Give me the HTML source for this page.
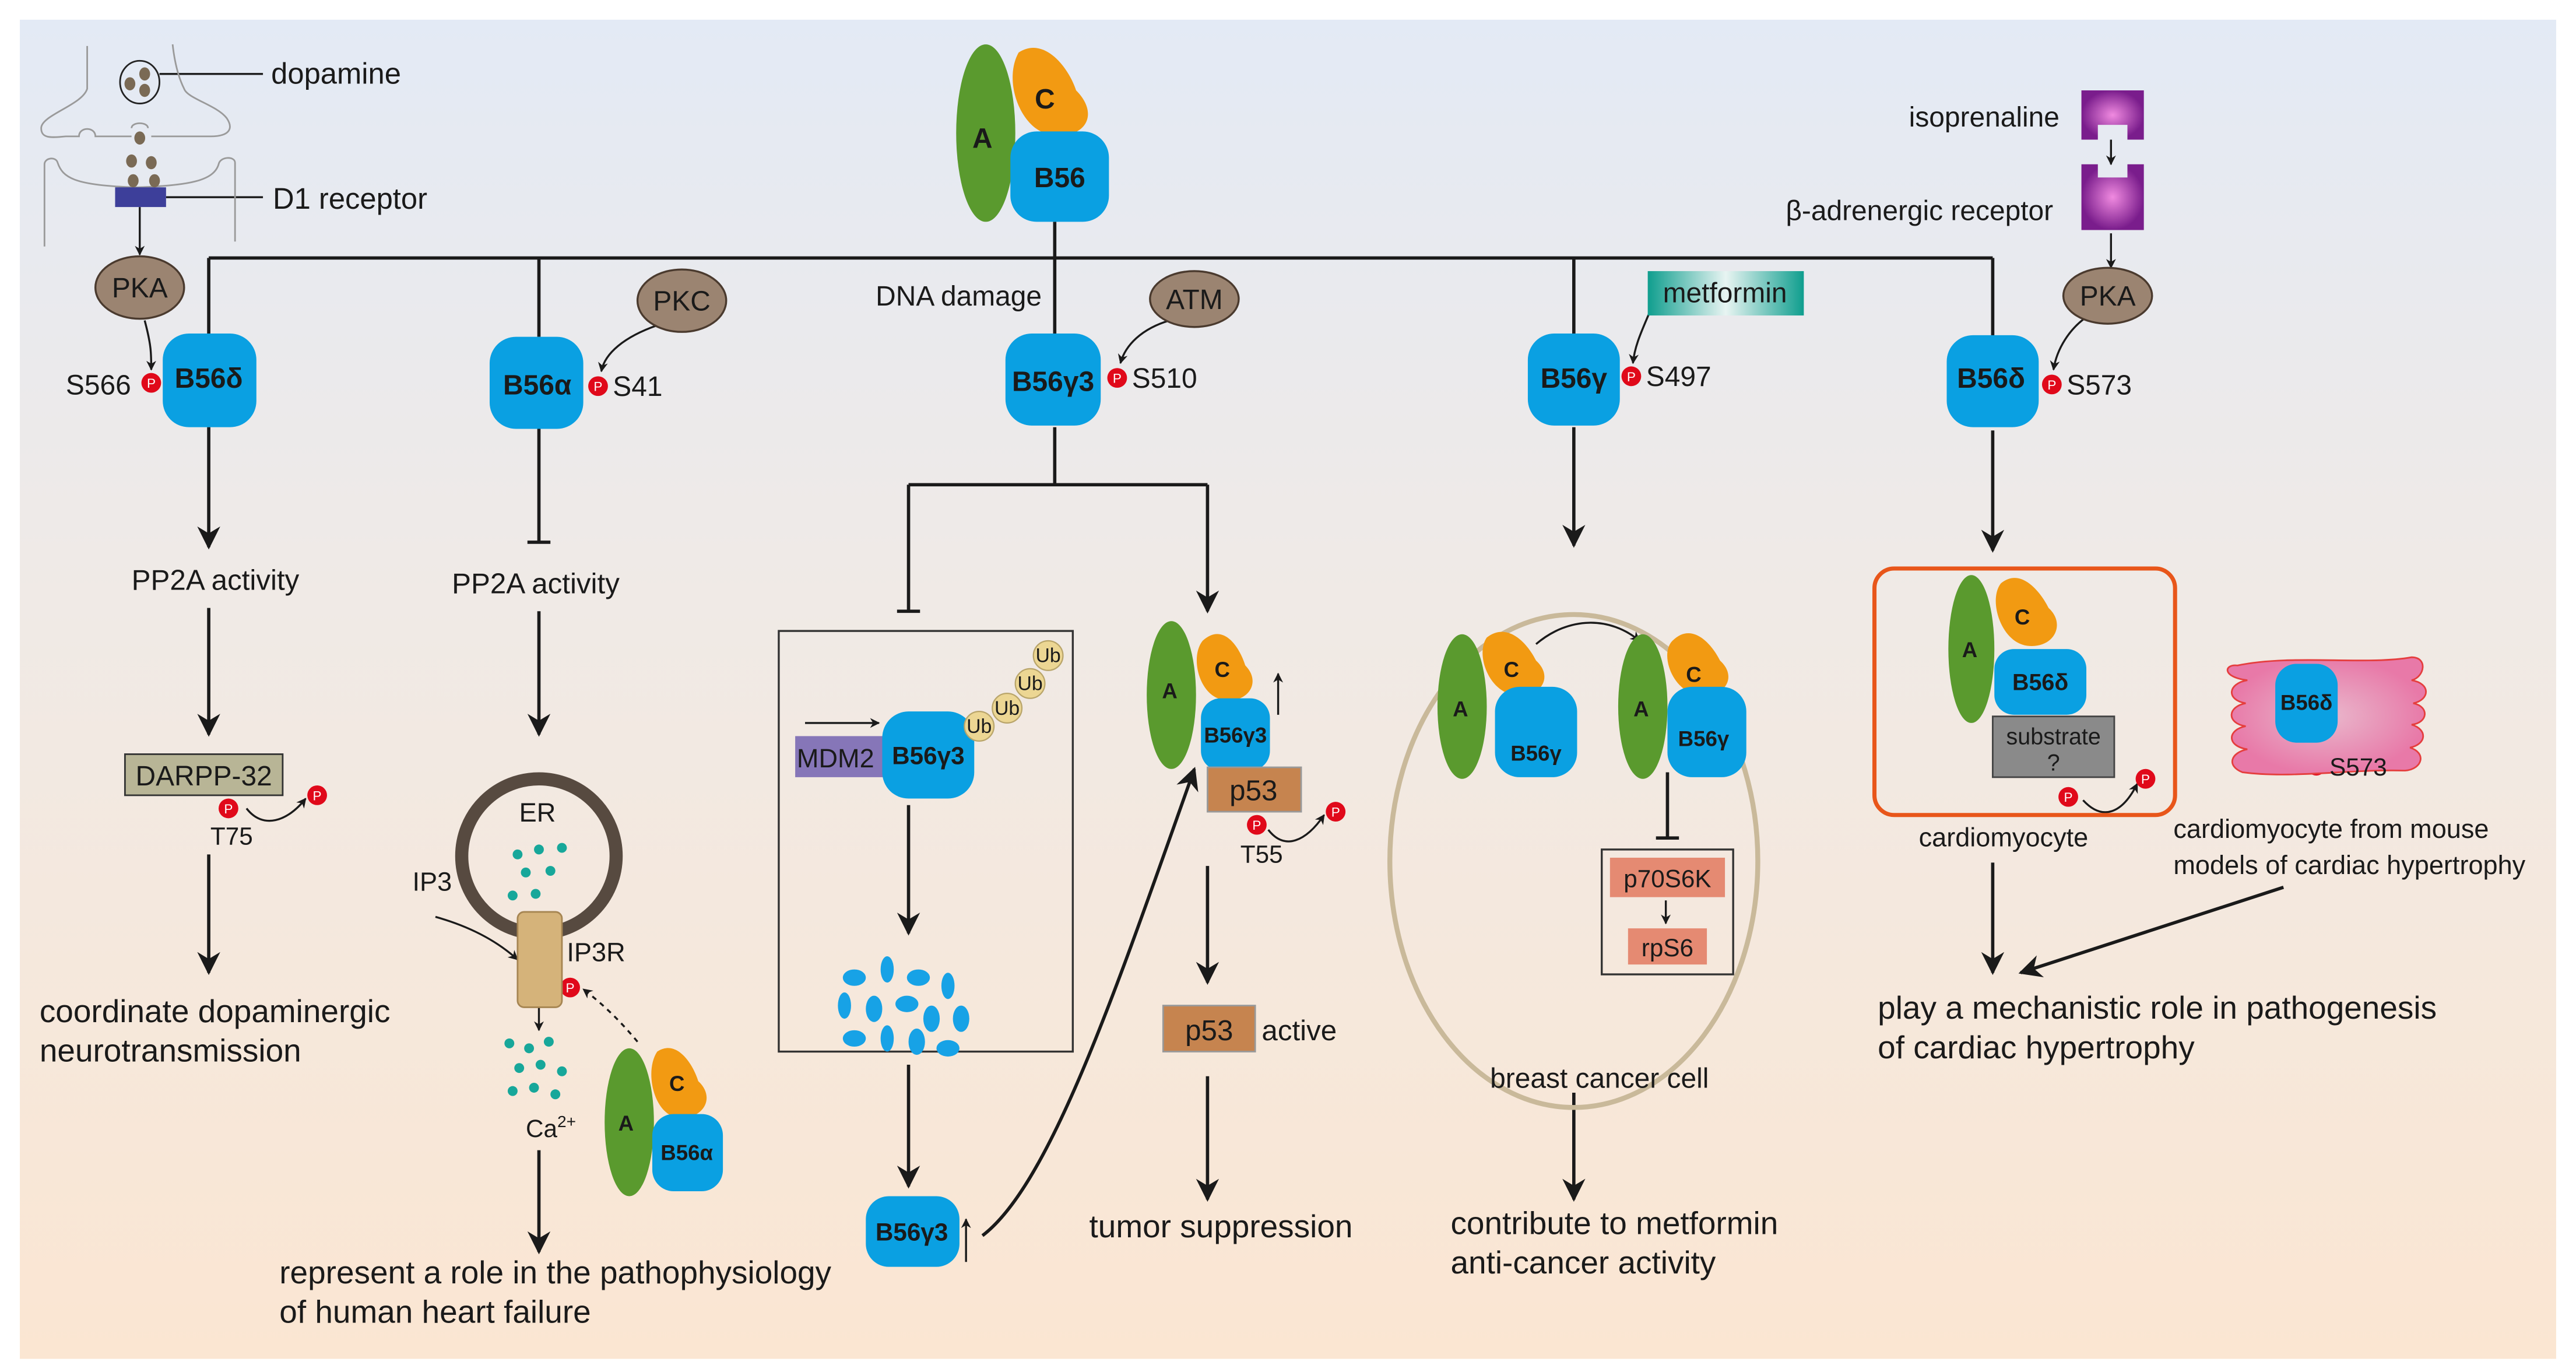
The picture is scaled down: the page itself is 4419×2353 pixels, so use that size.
<!DOCTYPE html>
<html><head><meta charset="utf-8"><style>html,body{margin:0;padding:0;background:#fff}svg{display:block}text{font-family:"Liberation Sans",sans-serif;fill:#1a1a1a}</style></head><body>
<svg width="4419" height="2353" viewBox="0 0 1568 835" xmlns="http://www.w3.org/2000/svg">
<defs>
<linearGradient id="bg" x1="0" y1="0" x2="0" y2="1"><stop offset="0" stop-color="#e3eaf5"/><stop offset="0.4" stop-color="#efeae7"/><stop offset="1" stop-color="#fbe6d2"/></linearGradient>
<linearGradient id="met" x1="0" x2="1"><stop offset="0" stop-color="#0f9e8e"/><stop offset="0.5" stop-color="#e8f4f2"/><stop offset="1" stop-color="#0f9e8e"/></linearGradient>
<radialGradient id="pink"><stop offset="0" stop-color="#e9b8cc"/><stop offset="1" stop-color="#e879a8"/></radialGradient>
<radialGradient id="purp"><stop offset="0" stop-color="#f08ae0"/><stop offset="1" stop-color="#7a1d8c"/></radialGradient>
<marker id="ah" viewBox="0 0 10 10" refX="9" refY="5" markerWidth="7" markerHeight="7" orient="auto-start-reverse"><path d="M0,0 L10,5 L0,10 L3,5 z" fill="#1a1a1a"/></marker>
<marker id="as" viewBox="0 0 10 10" refX="9" refY="5" markerWidth="5" markerHeight="5" orient="auto"><path d="M0,0 L10,5 L0,10 L3,5 z" fill="#1a1a1a"/></marker>
</defs>
<rect width="1568" height="835" fill="#fff"/>
<rect x="12" y="12" width="1544" height="815" fill="url(#bg)"/>

<g fill="none" stroke="#1a1a1a" stroke-width="2">
<path d="M127,157 H1213"/><path d="M642,135 V157"/>
<path d="M127,157 V205"/><path d="M328,157 V205"/><path d="M642,157 V205"/><path d="M958,157 V205"/><path d="M1213,157 V205"/>
<path d="M127,260 V333" marker-end="url(#ah)"/>
<path d="M127,370 V447" marker-end="url(#ah)"/>
<path d="M127,520 V592" marker-end="url(#ah)"/>
<path d="M328,260 V330 M321,330 H335"/>
<path d="M328,372 V447" marker-end="url(#ah)"/>
<path d="M328,700 V762" marker-end="url(#ah)"/>
<path d="M642,260 V295 M553,295 H735 M553,295 V372 M546,372 H560"/>
<path d="M735,295 V372" marker-end="url(#ah)"/>
<path d="M553,490 V568" marker-end="url(#ah)"/>
<path d="M553,648 V722" marker-end="url(#ah)"/>
<path d="M598,752 C640,720 680,600 727,468" marker-end="url(#ah)"/>
<path d="M735,527 V598" marker-end="url(#ah)"/>
<path d="M735,655 V730" marker-end="url(#ah)"/>
<path d="M958,260 V332" marker-end="url(#ah)"/>
<path d="M958,665 V730" marker-end="url(#ah)"/>
<path d="M1213,262 V335" marker-end="url(#ah)"/>
<path d="M1213,525 V592" marker-end="url(#ah)"/>
<path d="M1390,540 L1230,592" marker-end="url(#ah)"/>
<path d="M1015,470 V510 M1008,510 H1022"/>
</g>
<g fill="none" stroke="#1a1a1a" stroke-width="1.2">
<path d="M85,126 V155" marker-end="url(#as)"/>
<path d="M88,195 C92,210 92,215 92,225" marker-end="url(#as)"/>
<path d="M400,198 C380,205 368,215 366,226" marker-end="url(#as)"/>
<path d="M712,195 C695,200 685,210 682,221" marker-end="url(#as)"/>
<path d="M1005,188 C1000,200 995,210 994,221" marker-end="url(#as)"/>
<path d="M1270,193 C1260,200 1252,212 1250,225" marker-end="url(#as)"/>
<path d="M1285,85 V100" marker-end="url(#as)"/>
<path d="M1285,142 V163" marker-end="url(#as)"/>
<path d="M150,492 C160,505 175,500 186,486" marker-end="url(#as)"/>
<path d="M772,505 C782,518 795,512 806,496" marker-end="url(#as)"/>
<path d="M1268,487 C1280,500 1292,495 1301,477" marker-end="url(#as)"/>
<path d="M265,558 C290,565 305,575 315,584" marker-end="url(#as)"/>
<path d="M328,612 V627" marker-end="url(#as)"/>
<path d="M388,634 C378,622 368,612 355,602" stroke-dasharray="3,3" marker-end="url(#as)"/>
<path d="M490,440 H535" marker-end="url(#as)"/>
<path d="M1014,548 V562" marker-end="url(#as)"/>
<path d="M935,392 C955,375 980,375 998,390" marker-end="url(#as)"/>
<path d="M588,768 V742" marker-end="url(#as)"/>
<path d="M778,435 V410" marker-end="url(#as)"/>
<path d="M1431,445 V418" marker-end="url(#as)"/>
<line x1="101" y1="120" x2="160" y2="120"/>
<line x1="97" y1="45" x2="160" y2="45"/>
</g>

<!-- neuron sketch -->
<g fill="none" stroke="#9a9a9a" stroke-width="1">
<path d="M53,28 V54 C50,64 25,70 25,78 C25,84 30,84 40,83 H48 C48,77 58,77 58,83 H80 M92,83 H128 C140,83 142,78 138,72 C132,64 114,60 112,54 C108,46 106,36 105,27"/>
<path d="M27,150 V100 C27,96 34,95 35,99 C38,108 45,113 83,114 C115,113 130,110 133,100 C134,95 143,95 143,99 V147"/>
<path d="M80,78 C80,74 90,74 90,78" />
</g>
<ellipse cx="85" cy="50" rx="12" ry="13" fill="none" stroke="#222" stroke-width="1"/>
<g fill="#7a6a55"><ellipse cx="79" cy="51" rx="3.3" ry="4"/><ellipse cx="88" cy="45" rx="3.3" ry="4"/><ellipse cx="88" cy="55" rx="3.3" ry="4"/><ellipse cx="85" cy="84" rx="3.3" ry="4"/><ellipse cx="80" cy="98" rx="3.3" ry="4"/><ellipse cx="92" cy="99" rx="3.3" ry="4"/><ellipse cx="81" cy="110" rx="3.3" ry="4"/><ellipse cx="94" cy="110" rx="3.3" ry="4"/></g>
<rect x="70" y="114" width="31" height="12" fill="#3d3f9a"/>
<text x="165" y="51" font-size="18">dopamine</text>
<text x="166" y="127" font-size="18">D1 receptor</text>

<!-- ellipses -->
<g fill="#9b8471" stroke="#4a3a2e" stroke-width="1.2">
<ellipse cx="85" cy="175" rx="27" ry="19"/><ellipse cx="415" cy="183" rx="27" ry="19"/><ellipse cx="727" cy="182" rx="27" ry="17"/><ellipse cx="1283" cy="180" rx="27" ry="17"/>
</g>
<g font-size="17" text-anchor="middle"><text x="85" y="181">PKA</text><text x="415" y="189">PKC</text><text x="727" y="188">ATM</text><text x="1283" y="186">PKA</text></g>

<!-- top complex -->
<ellipse cx="600" cy="81" rx="18" ry="54" fill="#5a9a2e"/>
<path d="M620,32 C635,22 650,40 655,55 C670,70 660,85 640,82 C622,80 610,50 620,32z" fill="#f29a12"/>
<rect x="615" y="80" width="60" height="55" rx="16" fill="#0aa0e2"/>
<text x="598" y="90" font-size="17" font-weight="bold" text-anchor="middle">A</text>
<text x="636" y="66" font-size="17" font-weight="bold" text-anchor="middle">C</text>
<text x="645" y="114" font-size="17" font-weight="bold" text-anchor="middle">B56</text>

<!-- blobs -->
<g fill="#0aa0e2">
<rect x="99" y="203" width="57" height="57" rx="16"/><rect x="298" y="205" width="57" height="56" rx="16"/><rect x="612" y="203" width="58" height="56" rx="16"/><rect x="930" y="203" width="56" height="56" rx="16"/><rect x="1185" y="204" width="56" height="56" rx="16"/>
</g>
<g font-size="17" font-weight="bold" text-anchor="middle"><text x="127" y="236">B56δ</text><text x="327" y="240">B56α</text><text x="641" y="238">B56γ3</text><text x="958" y="236">B56γ</text><text x="1212" y="236">B56δ</text></g>

<!-- P circles -->
<g fill="#e0091a"><circle cx="92" cy="233" r="6"/><circle cx="364" cy="235" r="6"/><circle cx="680" cy="230" r="6"/><circle cx="993" cy="229" r="6"/><circle cx="1249" cy="234" r="6"/>
<circle cx="139" cy="492" r="6"/><circle cx="193" cy="484" r="6"/><circle cx="347" cy="601" r="6"/><circle cx="765" cy="502" r="6"/><circle cx="813" cy="494" r="6"/><circle cx="1259" cy="485" r="6"/><circle cx="1306" cy="474" r="6"/><circle cx="1410" cy="466" r="6"/></g>
<g font-size="8" text-anchor="middle"><text x="92" y="236" style="fill:#fff">P</text><text x="364" y="238" style="fill:#fff">P</text><text x="680" y="233" style="fill:#fff">P</text><text x="993" y="232" style="fill:#fff">P</text><text x="1249" y="237" style="fill:#fff">P</text><text x="139" y="495" style="fill:#fff">P</text><text x="193" y="487" style="fill:#fff">P</text><text x="347" y="604" style="fill:#fff">P</text><text x="765" y="505" style="fill:#fff">P</text><text x="813" y="497" style="fill:#fff">P</text><text x="1259" y="488" style="fill:#fff">P</text><text x="1306" y="477" style="fill:#fff">P</text><text x="1410" y="469" style="fill:#fff">P</text></g>
<g font-size="17"><text x="40" y="240">S566</text><text x="373" y="241">S41</text><text x="689" y="236">S510</text><text x="1002" y="235">S497</text><text x="1258" y="240">S573</text></g>
<text x="533" y="186" font-size="17">DNA damage</text>

<!-- metformin / isoprenaline -->
<rect x="1003" y="165" width="95" height="27" fill="url(#met)"/>
<text x="1050" y="184" font-size="17" text-anchor="middle">metformin</text>
<path d="M1267,55 H1305 V85 H1295 V76 H1277 V85 H1267z" fill="url(#purp)"/>
<path d="M1267,100 H1277 V108 H1295 V100 H1305 V140 H1267z" fill="url(#purp)"/>
<text x="1162" y="77" font-size="17">isoprenaline</text>
<text x="1087" y="134" font-size="17">β-adrenergic receptor</text>

<!-- branch 1 -->
<text x="80" y="359" font-size="17.5">PP2A activity</text>
<rect x="76" y="459" width="96" height="25" fill="#b8b596" stroke="#333"/>
<text x="124" y="478" font-size="17" text-anchor="middle">DARPP-32</text>
<text x="128" y="514" font-size="15">T75</text>
<text x="24" y="622" font-size="19.5">coordinate  dopaminergic</text>
<text x="24" y="646" font-size="19.5">neurotransmission</text>

<!-- branch 2 -->
<text x="275" y="361" font-size="17.5">PP2A activity</text>
<circle cx="328" cy="521" r="47" fill="none" stroke="#574a40" stroke-width="8"/>
<text x="316" y="500" font-size="16">ER</text>
<g fill="#17a79a"><circle cx="315" cy="520" r="3"/><circle cx="328" cy="517" r="3"/><circle cx="342" cy="516" r="3"/><circle cx="320" cy="531" r="3"/><circle cx="335" cy="530" r="3"/><circle cx="312" cy="545" r="3"/><circle cx="326" cy="544" r="3"/>
<circle cx="310" cy="635" r="3"/><circle cx="322" cy="638" r="3"/><circle cx="334" cy="634" r="3"/><circle cx="316" cy="650" r="3"/><circle cx="329" cy="648" r="3"/><circle cx="342" cy="652" r="3"/><circle cx="312" cy="664" r="3"/><circle cx="325" cy="662" r="3"/><circle cx="338" cy="666" r="3"/></g>
<rect x="315" y="555" width="27" height="58" rx="4" fill="#d5b37a" stroke="#a68552"/>
<text x="251" y="542" font-size="16">IP3</text>
<text x="345" y="585" font-size="16">IP3R</text>
<text x="320" y="692" font-size="15">Ca<tspan font-size="10" dy="-6">2+</tspan></text>
<ellipse cx="383" cy="683" rx="15" ry="45" fill="#5a9a2e"/>
<path d="M400,640 C412,632 422,648 425,658 C436,668 428,682 412,680 C398,678 392,652 400,640z" fill="#f29a12"/>
<rect x="397" y="678" width="43" height="47" rx="13" fill="#0aa0e2"/>
<text x="381" y="688" font-size="13" font-weight="bold" text-anchor="middle">A</text>
<text x="412" y="664" font-size="13" font-weight="bold" text-anchor="middle">C</text>
<text x="418" y="706" font-size="13" font-weight="bold" text-anchor="middle">B56α</text>
<text x="170" y="781" font-size="19.5">represent a role in the pathophysiology</text>
<text x="170" y="805" font-size="19.5">of human heart failure</text>

<!-- branch 3 -->
<rect x="474" y="384" width="179" height="256" fill="none" stroke="#333" stroke-width="1.2"/>
<rect x="484" y="448" width="55" height="25" fill="#8676b8"/>
<text x="485" y="467" font-size="16">MDM2</text>
<rect x="537" y="433" width="56" height="53" rx="16" fill="#0aa0e2"/>
<text x="565" y="465" font-size="15" font-weight="bold" text-anchor="middle">B56γ3</text>
<g fill="#ecd693" stroke="#b9a56a" stroke-width="0.8"><circle cx="596" cy="442" r="9"/><circle cx="613" cy="431" r="9"/><circle cx="627" cy="416" r="9"/><circle cx="638" cy="399" r="9"/></g>
<g font-size="12" text-anchor="middle"><text x="596" y="446">Ub</text><text x="613" y="435">Ub</text><text x="627" y="420">Ub</text><text x="638" y="403">Ub</text></g>
<g fill="#17a2e6"><ellipse cx="520" cy="595" rx="7" ry="5"/><ellipse cx="540" cy="590" rx="4" ry="8"/><ellipse cx="559" cy="595" rx="7" ry="5"/><ellipse cx="577" cy="600" rx="4" ry="8"/><ellipse cx="514" cy="612" rx="4" ry="8"/><ellipse cx="532" cy="614" rx="5" ry="8"/><ellipse cx="552" cy="611" rx="7" ry="5"/><ellipse cx="567" cy="620" rx="5" ry="8"/><ellipse cx="585" cy="620" rx="5" ry="8"/><ellipse cx="520" cy="632" rx="7" ry="5"/><ellipse cx="540" cy="632" rx="4" ry="8"/><ellipse cx="558" cy="634" rx="5" ry="8"/><ellipse cx="577" cy="638" rx="7" ry="5"/></g>
<rect x="527" y="728" width="57" height="43" rx="14" fill="#0aa0e2"/>
<text x="555" y="755" font-size="15" font-weight="bold" text-anchor="middle">B56γ3</text>
<ellipse cx="713" cy="423" rx="15" ry="45" fill="#5a9a2e"/>
<path d="M732,390 C745,378 755,395 758,405 C768,415 760,428 745,426 C730,424 724,400 732,390z" fill="#f29a12"/>
<rect x="731" y="425" width="42" height="44" rx="12" fill="#0aa0e2"/>
<text x="712" y="425" font-size="13" font-weight="bold" text-anchor="middle">A</text>
<text x="744" y="412" font-size="13" font-weight="bold" text-anchor="middle">C</text>
<text x="752" y="452" font-size="13" font-weight="bold" text-anchor="middle">B56γ3</text>
<rect x="735" y="467" width="57" height="27" fill="#c6844f" stroke="#999"/>
<text x="763" y="487" font-size="17.5" text-anchor="middle">p53</text>
<text x="755" y="525" font-size="15">T55</text>
<rect x="708" y="612" width="56" height="28" fill="#c6844f" stroke="#999"/>
<text x="736" y="633" font-size="17.5" text-anchor="middle">p53</text>
<text x="768" y="633" font-size="17.5">active</text>
<text x="663" y="753" font-size="19.5">tumor suppression</text>

<!-- branch 4 -->
<ellipse cx="958" cy="524" rx="112" ry="150" fill="none" stroke="#c9b99a" stroke-width="3"/>
<ellipse cx="890" cy="430" rx="15" ry="44" fill="#5a9a2e"/>
<path d="M905,388 C918,378 930,392 935,402 C946,412 938,425 922,423 C906,421 898,398 905,388z" fill="#f29a12"/>
<rect x="910" y="418" width="50" height="55" rx="15" fill="#0aa0e2"/>
<text x="889" y="436" font-size="13" font-weight="bold" text-anchor="middle">A</text>
<text x="920" y="412" font-size="13" font-weight="bold" text-anchor="middle">C</text>
<text x="935" y="463" font-size="13" font-weight="bold" text-anchor="middle">B56γ</text>
<ellipse cx="1000" cy="430" rx="15" ry="44" fill="#5a9a2e"/>
<path d="M1018,390 C1030,378 1042,392 1047,402 C1058,412 1050,425 1034,423 C1018,421 1010,398 1018,390z" fill="#f29a12"/>
<rect x="1015" y="418" width="48" height="55" rx="15" fill="#0aa0e2"/>
<text x="999" y="436" font-size="13" font-weight="bold" text-anchor="middle">A</text>
<text x="1031" y="415" font-size="13" font-weight="bold" text-anchor="middle">C</text>
<text x="1037" y="454" font-size="13" font-weight="bold" text-anchor="middle">B56γ</text>
<rect x="975" y="517" width="80" height="76" fill="none" stroke="#333" stroke-width="1.2"/>
<rect x="980" y="522" width="70" height="24" fill="#e58a72"/>
<text x="1015" y="540" font-size="15" text-anchor="middle">p70S6K</text>
<rect x="991" y="565" width="48" height="22" fill="#e58a72"/>
<text x="1015" y="582" font-size="15" text-anchor="middle">rpS6</text>
<text x="907" y="662" font-size="17">breast cancer cell</text>
<text x="883" y="751" font-size="19.5">contribute to metformin</text>
<text x="883" y="775" font-size="19.5">anti-cancer activity</text>

<!-- branch 5 -->
<rect x="1141" y="346" width="183" height="150" rx="12" fill="none" stroke="#e8561a" stroke-width="2.5"/>
<ellipse cx="1200" cy="395" rx="14" ry="45" fill="#5a9a2e"/>
<path d="M1218,355 C1230,345 1242,360 1247,370 C1258,380 1250,395 1234,393 C1218,391 1210,365 1218,355z" fill="#f29a12"/>
<rect x="1214" y="395" width="56" height="40" rx="12" fill="#0aa0e2"/>
<text x="1199" y="400" font-size="13" font-weight="bold" text-anchor="middle">A</text>
<text x="1231" y="380" font-size="13" font-weight="bold" text-anchor="middle">C</text>
<text x="1242" y="420" font-size="14" font-weight="bold" text-anchor="middle">B56δ</text>
<rect x="1213" y="436" width="74" height="37" fill="#8a8a8a" stroke="#444"/>
<text x="1250" y="453" font-size="14" text-anchor="middle">substrate</text>
<text x="1250" y="469" font-size="14" text-anchor="middle">?</text>
<text x="1168" y="515" font-size="16">cardiomyocyte</text>
<path d="M1362,405 C1395,398 1440,405 1468,400 C1478,400 1476,412 1468,414 C1480,416 1479,426 1469,428 C1479,430 1478,440 1468,441 C1478,444 1477,453 1467,455 C1477,458 1475,468 1464,469 C1430,468 1395,474 1365,470 C1355,466 1358,458 1368,456 C1355,454 1356,444 1367,442 C1355,440 1356,430 1367,428 C1355,426 1356,416 1368,414 C1352,412 1354,404 1362,405z" fill="url(#pink)" stroke="#e53e3e" stroke-width="1"/>
<rect x="1385" y="404" width="38" height="48" rx="13" fill="#0aa0e2"/>
<text x="1404" y="432" font-size="13" font-weight="bold" text-anchor="middle">B56δ</text>
<text x="1418" y="472" font-size="15">S573</text>
<text x="1323" y="510" font-size="16">cardiomyocyte from mouse</text>
<text x="1323" y="532" font-size="16">models of cardiac hypertrophy</text>
<text x="1143" y="620" font-size="19.5">play a mechanistic role in pathogenesis</text>
<text x="1143" y="644" font-size="19.5">of cardiac hypertrophy</text>
</svg>
</body></html>
